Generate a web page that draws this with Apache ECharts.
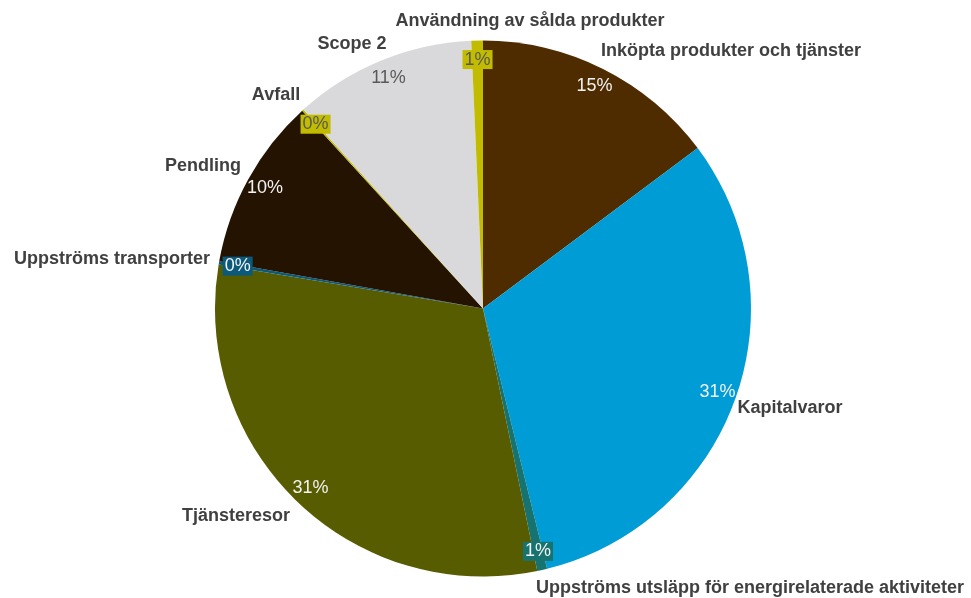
<!DOCTYPE html>
<html>
<head>
<meta charset="utf-8">
<script src="https://cdn.jsdelivr.net/npm/echarts@6/dist/echarts.min.js"></script>
<style>
html,body{margin:0;padding:0;background:#fff;}
#chart{width:971px;height:598px;}
</style>
</head>
<body>
<div id="chart"></div>
<script>
const categories = [
  'Inköpta produkter och tjänster',
  'Kapitalvaror',
  'Uppströms utsläpp för energirelaterade aktiviteter',
  'Tjänsteresor',
  'Uppströms transporter',
  'Pendling',
  'Avfall',
  'Scope 2',
  'Användning av sålda produkter'
];
const values = [14.8, 31.4, 0.6, 30.9, 0.2, 10.4, 0.1, 11.0, 0.7];
const colors = ['#4F2C00', '#009CD6', '#17736F', '#585C00', '#0B5A7C', '#241300', '#C2BC00', '#D9D9DB', '#C2BC00'];
const pctColors = ['#F2F2F2', '#F2F2F2', '#F2F2F2', '#F2F2F2', '#F2F2F2', '#F2F2F2', '#595959', '#595959', '#595959'];
const boxed = [false, false, true, false, true, false, true, false, true];
// label centres for category names (styling/layout only)
const namePos = [
  [731, 51], [790, 408], [750, 588], [236, 516], [112, 259],
  [203, 166], [276, 95], [352, 44], [530, 21]
];

const chart = echarts.init(document.getElementById('chart'), null, {renderer: 'canvas'});
const FONT = '"Liberation Sans Narrow", "Arial Narrow", "Liberation Sans", Arial, sans-serif';
const center = [483, 308.5];

const mainData = categories.map((c, i) => ({
  name: c, value: values[i], itemStyle: {color: colors[i]}
}));
const pctData = categories.map((c, i) => ({
  name: c, value: values[i],
  itemStyle: {color: 'rgba(0,0,0,0)'},
  label: {
    color: pctColors[i],
    backgroundColor: boxed[i] ? colors[i] : 'transparent',
    padding: boxed[i] ? [1, 2, 0, 2] : 0
  }
}));

chart.setOption({
  backgroundColor: '#ffffff',
  animation: false,
  series: [
    {
      type: 'pie',
      center: center,
      radius: [0, 268],
      startAngle: 90,
      clockwise: true,
      avoidLabelOverlap: false,
      silent: true,
      itemStyle: {borderWidth: 0},
      data: mainData,
      label: {
        show: true,
        position: 'outside',
        formatter: '{b}',
        fontFamily: FONT,
        fontWeight: 'bold',
        fontSize: 18,
        color: '#404040'
      },
      labelLine: {show: false},
      labelLayout: function (p) {
        const pos = namePos[p.dataIndex];
        return {x: pos[0], y: pos[1], align: 'center', verticalAlign: 'middle', hideOverlap: false, moveOverlap: null};
      }
    },
    {
      type: 'pie',
      center: center,
      radius: [226, 266],
      startAngle: 90,
      clockwise: true,
      avoidLabelOverlap: false,
      silent: true,
      data: pctData,
      label: {
        show: true,
        position: 'inside',
        rotate: 0,
        fontFamily: FONT,
        fontSize: 18,
        formatter: function (p) { return Math.round(p.percent) + '%'; }
      },
      labelLine: {show: false}
    }
  ]
});
</script>
</body>
</html>
